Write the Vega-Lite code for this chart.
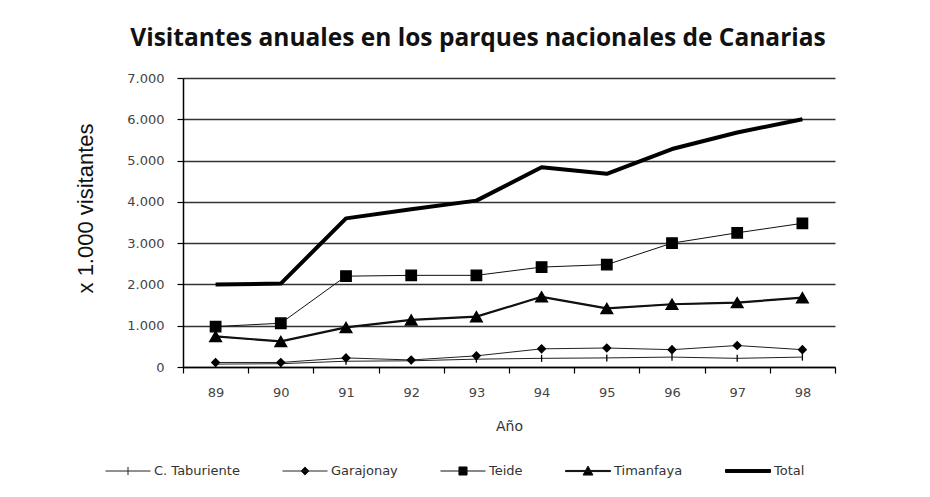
{
  "$schema": "https://vega.github.io/schema/vega-lite/v6.json",
  "width": 652,
  "height": 289,
  "autosize": "none",
  "padding": {"left": 183, "top": 78, "right": 95, "bottom": 130},
  "background": "white",
  "title": {
    "text": "Visitantes anuales en los parques nacionales de Canarias",
    "font": "Open Sans",
    "fontSize": 24.5,
    "fontWeight": "bold",
    "color": "#111111",
    "anchor": "middle",
    "frame": "group",
    "baseline": "alphabetic",
    "offset": 2,
    "dx": -31
  },
  "config": {"view": {"stroke": null}},
  "data": {
    "values": [
      {"year": "89", "series": "C. Taburiente", "value": 70},
      {"year": "90", "series": "C. Taburiente", "value": 80},
      {"year": "91", "series": "C. Taburiente", "value": 140},
      {"year": "92", "series": "C. Taburiente", "value": 150},
      {"year": "93", "series": "C. Taburiente", "value": 190},
      {"year": "94", "series": "C. Taburiente", "value": 210},
      {"year": "95", "series": "C. Taburiente", "value": 220},
      {"year": "96", "series": "C. Taburiente", "value": 240},
      {"year": "97", "series": "C. Taburiente", "value": 210},
      {"year": "98", "series": "C. Taburiente", "value": 240},
      {"year": "89", "series": "Garajonay", "value": 110},
      {"year": "90", "series": "Garajonay", "value": 110},
      {"year": "91", "series": "Garajonay", "value": 220},
      {"year": "92", "series": "Garajonay", "value": 170},
      {"year": "93", "series": "Garajonay", "value": 270},
      {"year": "94", "series": "Garajonay", "value": 440},
      {"year": "95", "series": "Garajonay", "value": 460},
      {"year": "96", "series": "Garajonay", "value": 420},
      {"year": "97", "series": "Garajonay", "value": 520},
      {"year": "98", "series": "Garajonay", "value": 420},
      {"year": "89", "series": "Teide", "value": 980},
      {"year": "90", "series": "Teide", "value": 1060},
      {"year": "91", "series": "Teide", "value": 2200},
      {"year": "92", "series": "Teide", "value": 2220},
      {"year": "93", "series": "Teide", "value": 2220},
      {"year": "94", "series": "Teide", "value": 2420},
      {"year": "95", "series": "Teide", "value": 2480},
      {"year": "96", "series": "Teide", "value": 3000},
      {"year": "97", "series": "Teide", "value": 3250},
      {"year": "98", "series": "Teide", "value": 3480},
      {"year": "89", "series": "Timanfaya", "value": 740},
      {"year": "90", "series": "Timanfaya", "value": 620},
      {"year": "91", "series": "Timanfaya", "value": 960},
      {"year": "92", "series": "Timanfaya", "value": 1140},
      {"year": "93", "series": "Timanfaya", "value": 1220},
      {"year": "94", "series": "Timanfaya", "value": 1700},
      {"year": "95", "series": "Timanfaya", "value": 1420},
      {"year": "96", "series": "Timanfaya", "value": 1520},
      {"year": "97", "series": "Timanfaya", "value": 1560},
      {"year": "98", "series": "Timanfaya", "value": 1680},
      {"year": "89", "series": "Total", "value": 2000},
      {"year": "90", "series": "Total", "value": 2020},
      {"year": "91", "series": "Total", "value": 3600},
      {"year": "92", "series": "Total", "value": 3820},
      {"year": "93", "series": "Total", "value": 4030},
      {"year": "94", "series": "Total", "value": 4840},
      {"year": "95", "series": "Total", "value": 4680},
      {"year": "96", "series": "Total", "value": 5280},
      {"year": "97", "series": "Total", "value": 5680},
      {"year": "98", "series": "Total", "value": 6000}
    ]
  },
  "encoding": {
    "x": {
      "field": "year",
      "type": "ordinal",
      "bandPosition": 0.5,
      "scale": {"type": "band", "paddingInner": 0, "paddingOuter": 0},
      "axis": {
        "title": "Año",
        "titleFont": "DejaVu Sans",
        "titleFontSize": 14,
        "titleFontWeight": "normal",
        "titleColor": "#333333",
        "titlePadding": 20,
        "labelFont": "DejaVu Sans",
        "labelFontSize": 13,
        "labelColor": "#444444",
        "labelAngle": 0,
        "labelPadding": 13,
        "tickBand": "extent",
        "tickSize": 6,
        "tickColor": "black",
        "tickWidth": 1.2,
        "domainColor": "black",
        "domainWidth": 1.5,
        "grid": false
      }
    },
    "y": {
      "field": "value",
      "type": "quantitative",
      "scale": {"domain": [0, 7000]},
      "axis": {
        "values": [0, 1000, 2000, 3000, 4000, 5000, 6000, 7000],
        "labelExpr": "replace(format(datum.value, ','), ',', '.')",
        "labelFont": "DejaVu Sans",
        "labelFontSize": 13,
        "labelColor": "#444444",
        "labelPadding": 13,
        "tickSize": 6,
        "tickColor": "black",
        "tickWidth": 1.2,
        "domainColor": "black",
        "domainWidth": 1.5,
        "grid": true,
        "gridColor": "#333333",
        "gridWidth": 1.5,
        "title": "x 1.000 visitantes",
        "titleFont": "Liberation Sans",
        "titleFontSize": 22,
        "titleFontWeight": "normal",
        "titleColor": "#111111",
        "titleAngle": -90,
        "titleAlign": "center",
        "titleBaseline": "middle",
        "titleX": -98,
        "titleY": 130
      }
    }
  },
  "layer": [
    {
      "mark": {"type": "line", "strokeWidth": 1, "strokeJoin": "round"},
      "encoding": {
        "color": {
          "field": "series",
          "type": "nominal",
          "scale": {
            "domain": ["C. Taburiente", "Garajonay", "Teide", "Timanfaya", "Total"],
            "range": ["#222222", "#222222", "#111111", "#111111", "#000000"]
          },
          "legend": {
            "title": null,
            "orient": "none",
            "direction": "horizontal",
            "legendX": -78,
            "legendY": 370,
            "padding": 0,
            "symbolSize": 2025,
            "symbolStrokeWidth": 1,
            "columnPadding": 40,
            "labelOffset": 3,
            "labelFont": "DejaVu Sans",
            "labelFontSize": 13,
            "labelColor": "#333333",
            "encode": {
              "symbols": {
                "update": {
                  "shape": {"signal": "datum.value == 'C. Taburiente' ? 'M-1,0H1M0,-0.18V0.18' : datum.value == 'Garajonay' ? 'M-1,0H1M0,-0.18L0.18,0L0,0.18L-0.18,0Z' : datum.value == 'Teide' ? 'M-1,0H1M-0.18,-0.18H0.18V0.18H-0.18Z' : datum.value == 'Timanfaya' ? 'M-1,-0.025H1V0.025H-1ZM0,-0.22L0.22,0.18H-0.22Z' : 'M-1,-0.065H1V0.065H-1Z'"},
                  "size": {"value": 2025},
                  "strokeWidth": {"value": 1},
                  "fill": {"value": "black"},
                  "stroke": {"value": "black"},
                  "fillOpacity": {"value": 1},
                  "strokeOpacity": {"value": 1},
                  "opacity": {"value": 1}
                }
              }
            }
          }
        }
      }
    },
    {
      "transform": [{"filter": "datum.series == 'Timanfaya'"}],
      "mark": {"type": "line", "strokeWidth": 2.2, "strokeJoin": "round", "color": "#111111"},
      "encoding": {}
    },
    {
      "transform": [{"filter": "datum.series == 'Total'"}],
      "mark": {"type": "line", "strokeWidth": 4, "strokeJoin": "round", "color": "#000000"},
      "encoding": {}
    },
    {
      "transform": [{"filter": "datum.series == 'C. Taburiente'"}],
      "mark": {"type": "point", "shape": "M0,-1V1", "size": 50, "filled": true, "fill": "black", "stroke": "black", "strokeWidth": 1.3, "opacity": 1},
      "encoding": {}
    },
    {
      "transform": [{"filter": "datum.series == 'Garajonay'"}],
      "mark": {"type": "point", "shape": "diamond", "size": 60, "filled": true, "fill": "black", "stroke": "black", "strokeWidth": 1.3, "opacity": 1},
      "encoding": {}
    },
    {
      "transform": [{"filter": "datum.series == 'Teide'"}],
      "mark": {"type": "point", "shape": "square", "size": 110, "filled": true, "fill": "black", "stroke": "black", "strokeWidth": 1.3, "opacity": 1},
      "encoding": {}
    },
    {
      "transform": [{"filter": "datum.series == 'Timanfaya'"}],
      "mark": {"type": "point", "shape": "triangle-up", "size": 140, "filled": true, "fill": "black", "stroke": "black", "strokeWidth": 1.3, "opacity": 1},
      "encoding": {}
    }
  ]
}
